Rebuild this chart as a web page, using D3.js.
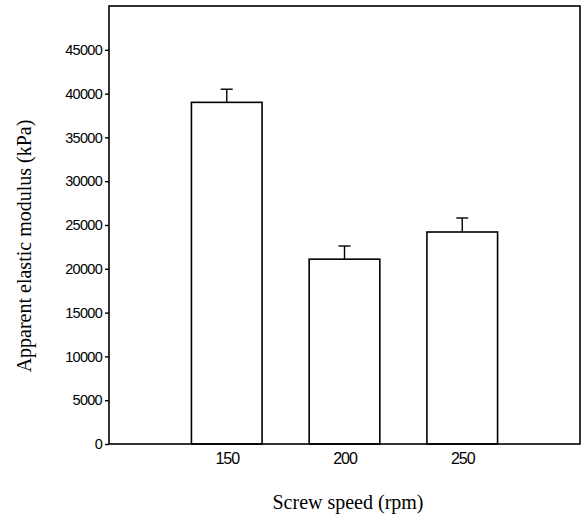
<!DOCTYPE html>
<html>
<head>
<meta charset="utf-8">
<script src="https://cdn.jsdelivr.net/npm/d3@7"></script>
<style>
  body { margin: 0; background: #fff; }
  svg { display: block; }
</style>
</head>
<body>
<div id="chart"></div>
<script>
// chart data
const speeds = [150, 200, 250];
const modulus = [39000, 21100, 24200];
const errors = [1500, 1500, 1600];
const yTicks = [0, 5000, 10000, 15000, 20000, 25000, 30000, 35000, 40000, 45000];
const xTicks = [150, 200, 250];

const width = 581;
const height = 517;
const margin = { top: 6, right: 1, bottom: 73, left: 109 };

const svg = d3.select('#chart')
  .append('svg')
  .attr('width', width)
  .attr('height', height);

const xScale = d3.scaleLinear()
  .domain([100, 300])
  .range([margin.left, width - margin.right]);

const yScale = d3.scaleLinear()
  .domain([0, 50000])
  .range([height - margin.bottom, margin.top]);

const barWidth = xScale(130) - xScale(100);

// bars
const bars = speeds.map((s, i) => ({ s, v: modulus[i], e: errors[i] }));

svg.append('g')
  .selectAll('rect')
  .data(bars)
  .join('rect')
  .attr('x', d => xScale(d.s) - barWidth / 2)
  .attr('y', d => yScale(d.v))
  .attr('width', barWidth)
  .attr('height', d => yScale(0) - yScale(d.v))
  .attr('fill', '#fff')
  .attr('stroke', '#000')
  .attr('stroke-width', 1.6);

// error bars (upper only)
const err = svg.append('g').attr('stroke', '#000').attr('stroke-width', 1.4);
err.selectAll('line.stem')
  .data(bars)
  .join('line')
  .attr('class', 'stem')
  .attr('x1', d => xScale(d.s))
  .attr('x2', d => xScale(d.s))
  .attr('y1', d => yScale(d.v))
  .attr('y2', d => yScale(d.v + d.e));
err.selectAll('line.cap')
  .data(bars)
  .join('line')
  .attr('class', 'cap')
  .attr('x1', d => xScale(d.s) - 6)
  .attr('x2', d => xScale(d.s) + 6)
  .attr('y1', d => yScale(d.v + d.e))
  .attr('y2', d => yScale(d.v + d.e));

// frame
svg.append('rect')
  .attr('x', margin.left)
  .attr('y', margin.top)
  .attr('width', width - margin.left - margin.right)
  .attr('height', yScale(0) - margin.top)
  .attr('fill', 'none')
  .attr('stroke', '#000')
  .attr('stroke-width', 1.6);

// y axis
const yAxis = svg.append('g')
  .attr('transform', `translate(${margin.left}, 0)`)
  .call(d3.axisLeft(yScale).tickValues(yTicks).tickSize(4).tickPadding(3).tickFormat(d3.format('d')));
yAxis.select('.domain').remove();
yAxis.selectAll('line').attr('stroke-width', 1.4);
yAxis.selectAll('text')
  .attr('font-family', 'Liberation Sans, Arial, sans-serif')
  .attr('font-size', 14.5)
  .attr('letter-spacing', -0.7)
  .attr('fill', '#000');

// x axis (labels only)
const xAxis = svg.append('g')
  .attr('transform', `translate(0, ${yScale(0)})`)
  .call(d3.axisBottom(xScale).tickValues(xTicks).tickSize(0).tickPadding(9));
xAxis.select('.domain').remove();
xAxis.selectAll('text')
  .attr('font-family', 'Liberation Sans, Arial, sans-serif')
  .attr('font-size', 16)
  .attr('letter-spacing', -1.1)
  .attr('fill', '#000');

// axis titles
svg.append('text')
  .attr('transform', `translate(31, ${(margin.top + yScale(0)) / 2 + 21}) rotate(-90)`)
  .attr('text-anchor', 'middle')
  .attr('font-family', 'Liberation Serif, Times New Roman, serif')
  .attr('font-size', 20)
  .text('Apparent elastic modulus (kPa)');

svg.append('text')
  .attr('x', 348)
  .attr('y', 509)
  .attr('text-anchor', 'middle')
  .attr('font-family', 'Liberation Serif, Times New Roman, serif')
  .attr('font-size', 20)
  .text('Screw speed (rpm)');
</script>
</body>
</html>
